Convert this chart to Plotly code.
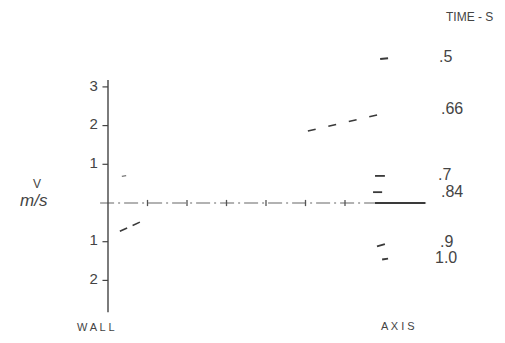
import plotly.graph_objects as go

PAGE_OFF = 8            # default body margin of the html page
W, H = 505 - PAGE_OFF, 343 - PAGE_OFF
# scale: data units -> pixels (page pixel coordinates)
X0_PX, XU = 108, 39.5   # vertical axis position, px per x unit
Y0_PX, YU = 203, 38.7   # zero line position, px per m/s

# ---- data ----
y_tick_vals = [3, 2, 1, -1, -2]
y_tick_text = ["3", "2", "1", "1", "2"]
x_tick_vals = [1, 2, 3, 4, 5, 6]

time_labels = [".5", ".66", ".7", ".84", ".9", "1.0"]
# velocity profile fragments (radial position units, velocity m/s)
seg_t05_x = [6.89, 7.09]
seg_t05_v = [3.72, 3.74]
seg_t066_x = [5.06, 7.01]
seg_t066_v = [1.86, 2.32]
seg_t07_x = [6.76, 7.01]
seg_t07_v = [0.70, 0.70]
seg_t084_x = [6.71, 6.94]
seg_t084_v = [0.28, 0.28]
seg_t084b_x = [6.76, 8.03]
seg_t084b_v = [0.0, 0.0]
seg_t09_x = [6.81, 7.01]
seg_t09_v = [-1.12, -1.06]
seg_t10_x = [6.94, 7.09]
seg_t10_v = [-1.46, -1.44]
wall_a_x = [0.35, 0.46]
wall_a_v = [0.69, 0.71]
wall_b_x = [0.30, 0.86]
wall_b_v = [-0.73, -0.47]

axis_v_range = [3.18, -2.82]
zero_line_x = [-0.2, 8.15]

COL = "#3a3a3a"

fig = go.Figure()

def seg(x, y, dash="solid", width=1.6, color=COL):
    fig.add_trace(go.Scatter(x=x, y=y, mode="lines",
                             line=dict(color=color, width=width, dash=dash),
                             hoverinfo="skip", showlegend=False))

# zero (centre) line, dash-dot
seg(zero_line_x, [0, 0], dash="14px,4px,2px,4px", width=1.1, color="#666")
# x ticks on the zero line
for xv in x_tick_vals:
    seg([xv, xv], [-0.08, 0.08], width=1.3, color="#555")

# vertical axis
seg([0, 0], axis_v_range, width=1.4, color="#444")
for yv in y_tick_vals:
    seg([-0.14, 0], [yv, yv], width=1.2, color="#444")

# profile fragments
seg(seg_t05_x, seg_t05_v, width=2)
seg(seg_t066_x, seg_t066_v, dash="8px,13px", width=1.6)
seg(seg_t07_x, seg_t07_v, width=1.8)
seg(seg_t084_x, seg_t084_v, width=1.8)
seg(seg_t084b_x, seg_t084b_v, width=1.8)
seg(seg_t09_x, seg_t09_v, width=1.8)
seg(seg_t10_x, seg_t10_v, width=1.8)
seg(wall_a_x, wall_a_v, width=1.3, color="#777")
seg(wall_b_x, wall_b_v, dash="8px,6px", width=1.6)

# y tick labels
fig.add_trace(go.Scatter(x=[-0.36] * len(y_tick_vals), y=y_tick_vals, mode="text",
                         text=y_tick_text, textposition="middle center",
                         textfont=dict(family="Liberation Sans", size=15, color="#444"),
                         hoverinfo="skip", showlegend=False))

def px2x(px):
    return (px - X0_PX) / XU

def px2y(py):
    return (Y0_PX - py) / YU

ann = []
def label(text, px, py, size, xanchor="center"):
    ann.append(dict(x=px2x(px), y=px2y(py), xref="x", yref="y", text=text,
                    showarrow=False, font=dict(family="Liberation Sans", size=size, color="#444"),
                    xanchor=xanchor, yanchor="middle"))

time_pos = [(445, 56), (452, 108), (444, 174), (452, 191), (446, 241), (446, 257)]
for t, (px, py) in zip(time_labels, time_pos):
    label(t, px, py, 16)

label("TIME\u00a0-\u00a0S", 444, 17, 12, xanchor="left")
label("W A L L", 96, 327, 11)
label("A X I S", 398, 326, 11)
label("V", 37, 184, 12)
label("<i>m/s</i>", 34, 200, 17)

# map page pixels to figure: figure starts at PAGE_OFF
xmin = -(X0_PX - PAGE_OFF) / XU
xmax = (505 - X0_PX) / XU
ymax = (Y0_PX - PAGE_OFF) / YU
ymin = -(343 - Y0_PX) / YU

fig.update_layout(
    width=W, height=H,
    margin=dict(l=0, r=0, t=0, b=0),
    paper_bgcolor="white", plot_bgcolor="white",
    xaxis=dict(range=[xmin, xmax], visible=False, fixedrange=True),
    yaxis=dict(range=[ymin, ymax], visible=False, fixedrange=True),
    annotations=ann,
    showlegend=False,
)

fig.write_html("out.html")
